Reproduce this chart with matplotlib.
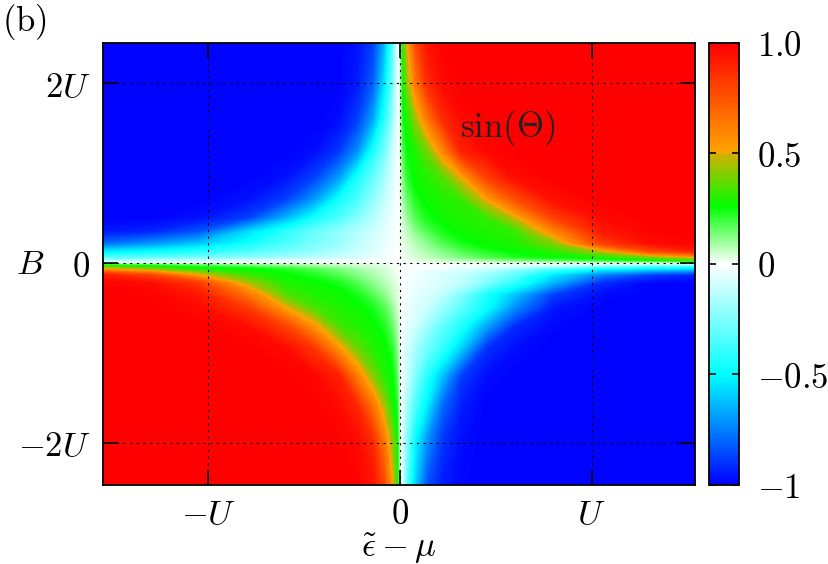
import numpy as np
import matplotlib
matplotlib.use("Agg")
import matplotlib.pyplot as plt
from matplotlib.colors import LinearSegmentedColormap, Normalize
from matplotlib.cm import ScalarMappable

plt.rcParams["mathtext.fontset"] = "cm"
plt.rcParams["font.family"] = "serif"

# sample nodes (units of U), measured as distance from the axes
eps_nodes = [0.003, 0.015, 0.04, 0.08, 0.14, 0.22, 0.32, 0.45, 0.6, 0.8, 1.05, 1.3, 1.56]
b_nodes = [0.005, 0.03, 0.07, 0.13, 0.22, 0.35, 0.5, 0.7, 0.95, 1.25, 1.6, 2.0, 2.47]

# sin(Theta), one table per quadrant
# rows follow b_nodes (|B| growing), columns follow eps_nodes (|eps - mu| growing)
upper_right = [
    [0.0, 0.0, 0.002, 0.004, 0.007, 0.01, 0.013, 0.017, 0.02, 0.025, 0.03, 0.04, 0.05],
    [0.001, 0.005, 0.01, 0.02, 0.035, 0.05, 0.07, 0.09, 0.12, 0.15, 0.19, 0.24, 0.3],
    [0.002, 0.008, 0.02, 0.04, 0.06, 0.09, 0.13, 0.18, 0.22, 0.26, 0.3, 0.4, 0.55],
    [0.002, 0.01, 0.03, 0.05, 0.08, 0.12, 0.17, 0.22, 0.26, 0.3, 0.45, 0.75, 0.9],
    [0.004, 0.02, 0.04, 0.07, 0.11, 0.17, 0.23, 0.27, 0.29, 0.4, 0.8, 0.96, 0.99],
    [0.006, 0.03, 0.06, 0.11, 0.17, 0.23, 0.27, 0.29, 0.31, 0.58, 0.92, 0.99, 1.0],
    [0.01, 0.05, 0.1, 0.17, 0.23, 0.27, 0.29, 0.31, 0.47, 0.8, 0.97, 1.0, 1.0],
    [0.02, 0.08, 0.15, 0.22, 0.27, 0.29, 0.31, 0.5, 0.75, 0.95, 1.0, 1.0, 1.0],
    [0.03, 0.12, 0.21, 0.27, 0.29, 0.34, 0.5, 0.8, 0.96, 1.0, 1.0, 1.0, 1.0],
    [0.04, 0.17, 0.25, 0.29, 0.38, 0.58, 0.9, 0.98, 1.0, 1.0, 1.0, 1.0, 1.0],
    [0.05, 0.22, 0.29, 0.42, 0.62, 0.86, 0.97, 1.0, 1.0, 1.0, 1.0, 1.0, 1.0],
    [0.06, 0.27, 0.42, 0.62, 0.86, 0.97, 1.0, 1.0, 1.0, 1.0, 1.0, 1.0, 1.0],
    [0.07, 0.3, 0.52, 0.77, 0.94, 0.99, 1.0, 1.0, 1.0, 1.0, 1.0, 1.0, 1.0],
]
upper_left = [
    [0.0, 0.0, -0.001, -0.003, -0.005, -0.007, -0.01, -0.012, -0.015, -0.02, -0.025, -0.03, -0.035],
    [0.0, -0.002, -0.007, -0.015, -0.025, -0.04, -0.055, -0.07, -0.09, -0.12, -0.15, -0.18, -0.2],
    [-0.001, -0.005, -0.015, -0.03, -0.05, -0.08, -0.11, -0.15, -0.2, -0.25, -0.3, -0.35, -0.38],
    [-0.002, -0.01, -0.02, -0.04, -0.07, -0.11, -0.16, -0.22, -0.28, -0.36, -0.44, -0.5, -0.55],
    [-0.002, -0.01, -0.025, -0.05, -0.08, -0.13, -0.2, -0.27, -0.36, -0.48, -0.62, -0.72, -0.8],
    [-0.003, -0.01, -0.03, -0.06, -0.1, -0.16, -0.22, -0.3, -0.42, -0.58, -0.84, -0.93, -0.96],
    [-0.004, -0.02, -0.04, -0.08, -0.15, -0.24, -0.35, -0.47, -0.65, -0.88, -0.97, -1.0, -1.0],
    [-0.005, -0.02, -0.06, -0.12, -0.22, -0.35, -0.47, -0.7, -0.88, -0.97, -1.0, -1.0, -1.0],
    [-0.006, -0.03, -0.08, -0.18, -0.3, -0.45, -0.7, -0.88, -0.97, -1.0, -1.0, -1.0, -1.0],
    [-0.008, -0.04, -0.12, -0.28, -0.46, -0.72, -0.9, -0.98, -1.0, -1.0, -1.0, -1.0, -1.0],
    [-0.01, -0.06, -0.22, -0.42, -0.68, -0.88, -0.98, -1.0, -1.0, -1.0, -1.0, -1.0, -1.0],
    [-0.015, -0.08, -0.3, -0.55, -0.82, -0.95, -1.0, -1.0, -1.0, -1.0, -1.0, -1.0, -1.0],
    [-0.02, -0.1, -0.35, -0.65, -0.88, -0.97, -1.0, -1.0, -1.0, -1.0, -1.0, -1.0, -1.0],
]
lower_left = [
    [0.0, 0.0, 0.002, 0.004, 0.007, 0.01, 0.013, 0.017, 0.02, 0.025, 0.03, 0.04, 0.05],
    [0.001, 0.005, 0.01, 0.02, 0.035, 0.05, 0.07, 0.09, 0.12, 0.15, 0.19, 0.24, 0.3],
    [0.002, 0.008, 0.02, 0.04, 0.06, 0.09, 0.13, 0.18, 0.22, 0.27, 0.3, 0.42, 0.55],
    [0.002, 0.01, 0.03, 0.05, 0.08, 0.12, 0.17, 0.22, 0.26, 0.32, 0.5, 0.78, 0.9],
    [0.004, 0.02, 0.04, 0.07, 0.11, 0.17, 0.23, 0.27, 0.29, 0.45, 0.82, 0.96, 0.99],
    [0.006, 0.03, 0.06, 0.11, 0.17, 0.23, 0.27, 0.29, 0.35, 0.65, 0.93, 0.99, 1.0],
    [0.01, 0.05, 0.1, 0.17, 0.23, 0.27, 0.29, 0.34, 0.52, 0.83, 0.97, 1.0, 1.0],
    [0.02, 0.08, 0.15, 0.22, 0.27, 0.29, 0.33, 0.55, 0.8, 0.96, 1.0, 1.0, 1.0],
    [0.03, 0.12, 0.21, 0.27, 0.29, 0.37, 0.55, 0.84, 0.97, 1.0, 1.0, 1.0, 1.0],
    [0.04, 0.17, 0.25, 0.29, 0.4, 0.6, 0.9, 0.98, 1.0, 1.0, 1.0, 1.0, 1.0],
    [0.05, 0.22, 0.29, 0.44, 0.65, 0.88, 0.97, 1.0, 1.0, 1.0, 1.0, 1.0, 1.0],
    [0.06, 0.27, 0.42, 0.63, 0.87, 0.97, 1.0, 1.0, 1.0, 1.0, 1.0, 1.0, 1.0],
    [0.07, 0.3, 0.52, 0.77, 0.94, 0.99, 1.0, 1.0, 1.0, 1.0, 1.0, 1.0, 1.0],
]
lower_right = [
    [0.0, -0.001, -0.002, -0.004, -0.006, -0.009, -0.012, -0.016, -0.02, -0.03, -0.04, -0.05, -0.06],
    [0.0, -0.002, -0.005, -0.01, -0.015, -0.02, -0.03, -0.05, -0.08, -0.14, -0.24, -0.32, -0.38],
    [-0.001, -0.004, -0.01, -0.02, -0.03, -0.045, -0.07, -0.12, -0.22, -0.38, -0.52, -0.58, -0.62],
    [-0.002, -0.006, -0.015, -0.03, -0.05, -0.08, -0.12, -0.2, -0.32, -0.55, -0.75, -0.88, -0.94],
    [-0.003, -0.01, -0.02, -0.035, -0.055, -0.08, -0.12, -0.25, -0.42, -0.65, -0.92, -0.99, -1.0],
    [-0.005, -0.015, -0.03, -0.05, -0.08, -0.13, -0.25, -0.45, -0.62, -0.88, -0.98, -1.0, -1.0],
    [-0.005, -0.02, -0.04, -0.07, -0.1, -0.2, -0.32, -0.48, -0.73, -0.96, -1.0, -1.0, -1.0],
    [-0.01, -0.03, -0.06, -0.1, -0.19, -0.31, -0.44, -0.68, -0.92, -0.99, -1.0, -1.0, -1.0],
    [-0.01, -0.05, -0.1, -0.18, -0.28, -0.4, -0.6, -0.91, -0.98, -1.0, -1.0, -1.0, -1.0],
    [-0.01, -0.05, -0.12, -0.25, -0.42, -0.62, -0.88, -0.98, -1.0, -1.0, -1.0, -1.0, -1.0],
    [-0.02, -0.08, -0.2, -0.36, -0.54, -0.8, -0.95, -1.0, -1.0, -1.0, -1.0, -1.0, -1.0],
    [-0.02, -0.1, -0.28, -0.52, -0.72, -0.9, -0.98, -1.0, -1.0, -1.0, -1.0, -1.0, -1.0],
    [-0.02, -0.12, -0.36, -0.6, -0.84, -0.95, -0.99, -1.0, -1.0, -1.0, -1.0, -1.0, -1.0],
]

cbar_ticks = [-1, -0.5, 0, 0.5, 1]
cbar_labels = [r"$-1$", r"$-0.5$", r"$0$", r"$0.5$", r"$1.0$"]
x_ticks = [-1, 0, 1]
x_labels = [r"$-U$", r"$0$", r"$U$"]
y_ticks = [-2, 0, 2]
y_labels = [r"$-2U$", r"$0$", r"$2U$"]

# assemble the full grid from the four quadrant tables
eps = np.array(eps_nodes)
bb = np.array(b_nodes)
x = np.concatenate([-eps[::-1], eps])
y = np.concatenate([-bb[::-1], bb])
top = np.hstack([np.array(upper_left)[:, ::-1], np.array(upper_right)])
bottom = np.hstack([np.array(lower_left)[:, ::-1], np.array(lower_right)])[::-1]
z = np.vstack([bottom, top])

# colormap as in the colour bar: blue - cyan - white - green | orange - red
cmap = LinearSegmentedColormap.from_list("sintheta", [
    (0.0, (0.0, 0.0, 1.0)),
    (0.125, (0.0, 0.5, 1.0)),
    (0.25, (0.0, 1.0, 1.0)),
    (0.5, (1.0, 1.0, 1.0)),
    (0.63, (0.0, 1.0, 0.0)),
    (0.749, (0.82, 0.69, 0.0)),
    (0.752, (1.0, 0.65, 0.0)),
    (1.0, (1.0, 0.0, 0.0)),
], N=512)
norm = Normalize(-1, 1)

fig = plt.figure(figsize=(8.29, 5.64), dpi=100)
ax = fig.add_axes([0.1242, 0.1401, 0.7142, 0.7837])
cax = fig.add_axes([0.8553, 0.1401, 0.0362, 0.7837])

ax.contourf(x, y, z, levels=np.linspace(-1, 1, 257), cmap=cmap, norm=norm, antialiased=False)
ax.set_xlim(-1.55, 1.54)
ax.set_ylim(-2.47, 2.45)

ax.set_xticks(x_ticks)
ax.set_xticklabels(x_labels)
ax.set_yticks(y_ticks)
ax.set_yticklabels(y_labels)
ax.tick_params(direction="in", length=11, width=1.2, top=True, right=True, labelsize=25, pad=9)
ax.grid(True, color="k", linewidth=0.8, linestyle=(0, (2, 4)))
for sp in ax.spines.values():
    sp.set_linewidth(1.3)

ax.set_xlabel(r"$\tilde{\epsilon}-\mu$", fontsize=25)
ax.xaxis.set_label_coords(0.5, -0.105)
ax.set_ylabel(r"$B$", fontsize=25, rotation=0, ha="center", va="center")
ax.yaxis.set_label_coords(-0.123, 0.5)

ax.text(0.56, 1.5, r"$\sin(\Theta)$", fontsize=25, ha="center", va="center", color="#222222")
fig.text(0.002, 0.997, r"$\mathrm{(b)}$", fontsize=25, ha="left", va="top")

cb = fig.colorbar(ScalarMappable(norm=norm, cmap=cmap), cax=cax, ticks=cbar_ticks)
cb.set_ticklabels(cbar_labels)
cb.outline.set_linewidth(1.3)
cax.tick_params(direction="in", length=5, width=1.2, left=True, right=True, labelsize=25, pad=13)

fig.savefig("out.png", dpi=100)
